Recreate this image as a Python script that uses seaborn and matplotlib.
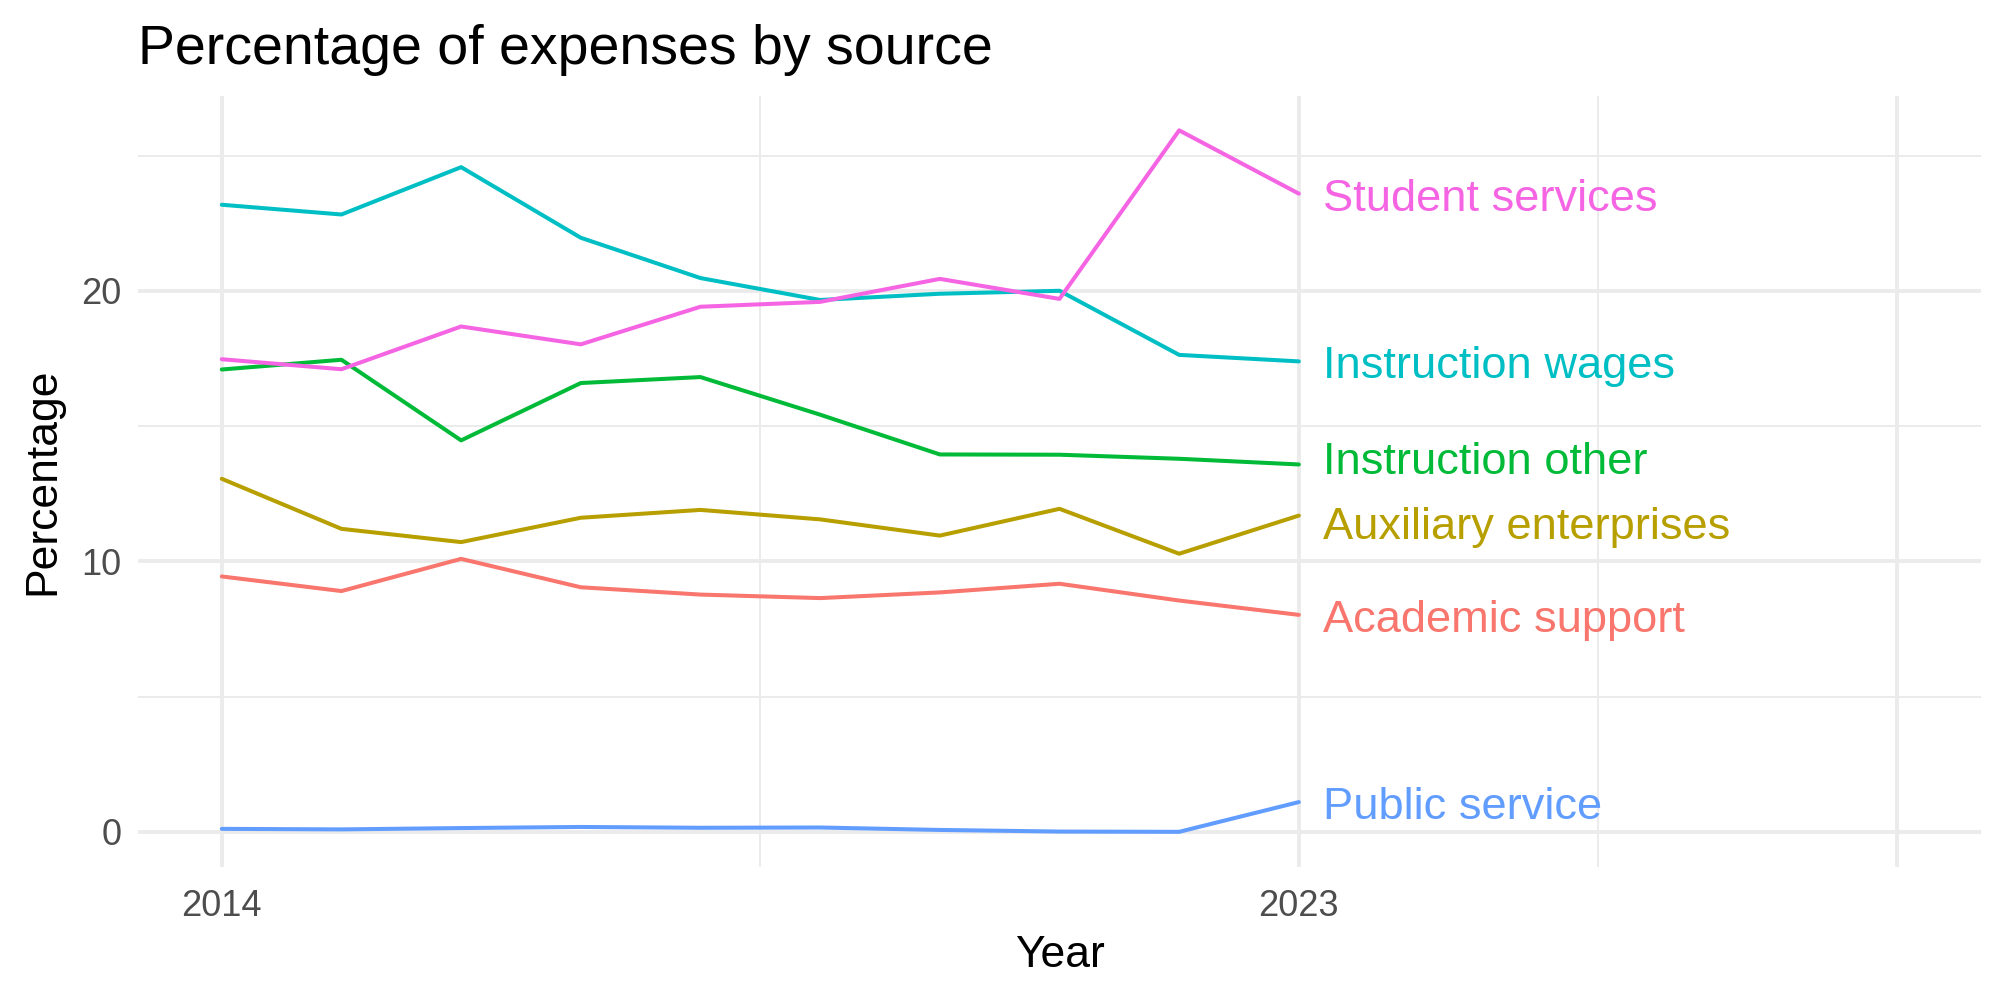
import matplotlib
matplotlib.use('Agg')
import matplotlib.pyplot as plt
import numpy as np
import pandas as pd
import seaborn as sns

years = list(range(2014, 2024))
academic_support = [9.44, 8.90, 10.09, 9.04, 8.77, 8.64, 8.85, 9.17, 8.55, 8.02]
auxiliary_enterprises = [13.05, 11.20, 10.71, 11.61, 11.90, 11.55, 10.95, 11.94, 10.28, 11.69]
instruction_other = [17.09, 17.45, 14.47, 16.59, 16.81, 15.42, 13.95, 13.94, 13.79, 13.58]
instruction_wages = [23.18, 22.82, 24.57, 21.96, 20.47, 19.66, 19.89, 20.00, 17.63, 17.39]
public_service = [0.11, 0.09, 0.14, 0.18, 0.15, 0.16, 0.07, 0.01, 0.00, 1.10]
student_services = [17.47, 17.10, 18.68, 18.02, 19.41, 19.59, 20.44, 19.70, 25.93, 23.59]

sources = ['Academic support', 'Auxiliary enterprises', 'Instruction other',
           'Instruction wages', 'Public service', 'Student services']
series = [academic_support, auxiliary_enterprises, instruction_other,
          instruction_wages, public_service, student_services]
colors = ['#F8766D', '#B79F00', '#00BA38', '#00BFC4', '#619CFF', '#F564E3']

df = pd.DataFrame({
    'Year': np.tile(years, len(sources)),
    'Percentage': np.concatenate(series),
    'Source': np.repeat(sources, len(years)),
})

sns.set_theme(style='white')
plt.rcParams['font.family'] = ['Liberation Sans', 'DejaVu Sans']
plt.rcParams['text.color'] = 'black'
plt.rcParams['axes.labelcolor'] = 'black'

fig, ax = plt.subplots(figsize=(10, 5), dpi=200)
fig.subplots_adjust(left=0.069, right=0.9905, top=0.904, bottom=0.133)

sns.lineplot(data=df, x='Year', y='Percentage', hue='Source', hue_order=sources,
             palette=colors, linewidth=1.45, legend=False, ax=ax, zorder=3)

# end labels, pushed apart a little where they would collide
last = df[df['Year'] == years[-1]].set_index('Source')['Percentage']
order = last.sort_values().index.tolist()
label_y = last.astype(float).copy()
min_gap = 2.4
for _ in range(20):
    for lo, hi in zip(order[:-1], order[1:]):
        gap = label_y[hi] - label_y[lo]
        if gap < min_gap:
            shift = (min_gap - gap) / 2
            label_y[hi] += shift
            label_y[lo] -= shift
for src, col in zip(sources, colors):
    ax.text(years[-1] + 0.2, label_y[src] - 0.2, src, color=col, fontsize=16.3,
            ha='left', va='center')

ax.set_xlim(2013.3, 2028.7)
ax.set_ylim(-1.3, 27.2)
ax.set_xticks([2014, 2023, 2028])
ax.set_xticklabels(['2014', '2023', ''])
ax.set_xticks([2018.5, 2025.5], minor=True)
ax.set_yticks([0, 10, 20])
ax.set_yticks([5, 15, 25], minor=True)
ax.grid(which='major', color='#EBEBEB', linewidth=1.4, zorder=0)
ax.grid(which='minor', color='#EBEBEB', linewidth=0.7, zorder=0)
ax.tick_params(which='both', length=0, labelsize=13, labelcolor='#4D4D4D')
ax.tick_params(axis='x', pad=8)
ax.tick_params(axis='y', pad=6)
for s in ax.spines.values():
    s.set_visible(False)

ax.set_xlabel('Year', fontsize=16, labelpad=4)
ax.set_ylabel('Percentage', fontsize=16, labelpad=6.5)
ax.set_title('Percentage of expenses by source', fontsize=20, loc='left', pad=11.5,
             color='black')

fig.savefig('out.png', dpi=200)
